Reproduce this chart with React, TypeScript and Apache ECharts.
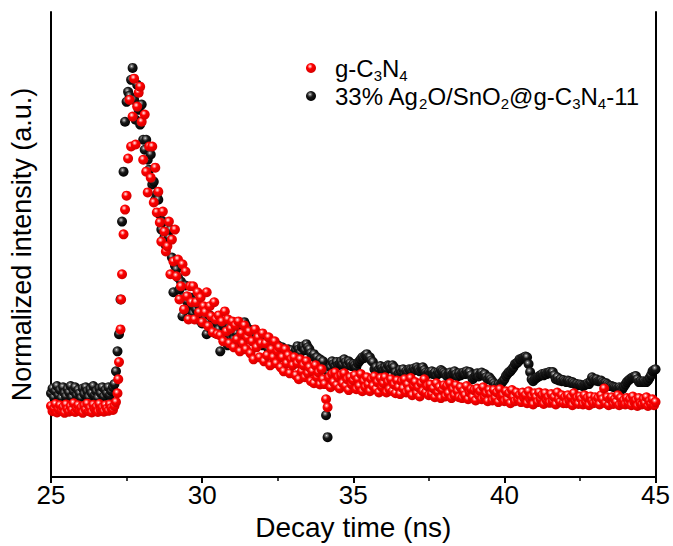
import React, { useEffect, useRef } from "react";
import * as echarts from "echarts";

// Channel grid of the decay traces (ns)
const START_NS = 25;
const STEP_NS = 0.05;
const X_MIN = 25;
const X_MAX = 45;
const X_INTERVAL = 5;
const Y_MIN = 0;
const Y_MAX = 1.165;

const RED_NAME = "g-C3N4";
const BLACK_NAME = "33% Ag2O/SnO2@g-C3N4-11";

// g-C3N4 normalized intensity, one value per channel (25.00 ns ... 45.00 ns)
const RED_VALUES = [
  0.178, 0.165, 0.172, 0.183, 0.162, 0.17, 0.18, 0.166, 0.175, 0.161,
  0.182, 0.17, 0.164, 0.177, 0.168, 0.185, 0.163, 0.172, 0.18, 0.166,
  0.174, 0.161, 0.179, 0.169, 0.184, 0.165, 0.173, 0.162, 0.181, 0.17,
  0.176, 0.163, 0.183, 0.168, 0.174, 0.164, 0.18, 0.171, 0.166, 0.182,
  0.173, 0.168, 0.178,
  0.188, 0.21, 0.288, 0.37, 0.508, 0.608, 0.67, 0.705, 0.798, 0.945, 0.828,
  0.903, 0.998, 0.833, 0.928, 0.963, 0.978, 0.89, 0.795, 0.908, 0.765,
  0.713, 0.828, 0.75, 0.828, 0.688, 0.775, 0.663, 0.715, 0.638, 0.59,
  0.665, 0.615, 0.565, 0.578, 0.64, 0.508, 0.595, 0.54, 0.62, 0.503,
  0.545, 0.445, 0.478, 0.533, 0.42, 0.515, 0.453, 0.395, 0.478, 0.438,
  0.478, 0.395, 0.438, 0.463, 0.413, 0.45, 0.388, 0.428, 0.413, 0.463,
  0.378, 0.428, 0.403, 0.363, 0.438, 0.395, 0.358,
  0.405, 0.355, 0.39, 0.34, 0.415, 0.365, 0.395, 0.335, 0.372, 0.39,
  0.325, 0.38, 0.345, 0.39, 0.315, 0.36, 0.335, 0.38, 0.32, 0.35,
  0.365, 0.31, 0.34, 0.295, 0.37, 0.325, 0.35, 0.3, 0.335, 0.36,
  0.29, 0.335, 0.305, 0.35, 0.28, 0.32, 0.3, 0.34, 0.285, 0.315,
  0.325, 0.275, 0.3, 0.265, 0.32, 0.285, 0.305, 0.26, 0.295, 0.28,
  0.3, 0.255, 0.285, 0.245, 0.295, 0.265, 0.28, 0.25, 0.29, 0.26,
  0.275, 0.24, 0.265, 0.235, 0.28, 0.25, 0.262, 0.232, 0.27, 0.245,
  0.233, 0.195, 0.175, 0.25,
  0.225, 0.258, 0.238, 0.262, 0.23, 0.25,
  0.222, 0.255, 0.235, 0.26, 0.228, 0.245, 0.218, 0.25, 0.232, 0.242,
  0.255, 0.22, 0.245, 0.228, 0.258, 0.215, 0.24, 0.225, 0.25, 0.232,
  0.215, 0.245, 0.228, 0.252, 0.22, 0.238, 0.212, 0.248, 0.225, 0.235,
  0.25, 0.212, 0.238, 0.22, 0.245, 0.215, 0.232, 0.21, 0.242, 0.225,
  0.208, 0.24, 0.222, 0.245, 0.212, 0.232, 0.218, 0.248, 0.205, 0.228,
  0.238, 0.21, 0.225, 0.202, 0.235, 0.215, 0.245, 0.212, 0.228, 0.205,
  0.232, 0.208, 0.222, 0.2, 0.235, 0.212, 0.225, 0.198, 0.218, 0.23,
  0.202, 0.228, 0.21, 0.235, 0.198, 0.22, 0.205, 0.23, 0.215, 0.2,
  0.225, 0.198, 0.215, 0.205, 0.228, 0.195, 0.212, 0.22, 0.2, 0.218,
  0.192, 0.222, 0.205, 0.215, 0.195, 0.225, 0.2, 0.21, 0.19, 0.218,
  0.208, 0.192, 0.218, 0.198, 0.212, 0.188, 0.22, 0.2, 0.205, 0.19,
  0.215, 0.195, 0.21, 0.185, 0.218, 0.2, 0.19, 0.212, 0.195, 0.205,
  0.188, 0.212, 0.198, 0.205, 0.185, 0.215, 0.195, 0.202, 0.182, 0.21,
  0.2, 0.188, 0.212, 0.195, 0.205, 0.183, 0.21, 0.192, 0.2, 0.186,
  0.208, 0.19, 0.2, 0.182, 0.212, 0.195, 0.188, 0.205, 0.185, 0.2,
  0.185, 0.205, 0.192, 0.2, 0.18, 0.21, 0.19, 0.198, 0.183, 0.202,
  0.195, 0.182, 0.205, 0.188, 0.198, 0.18, 0.202, 0.19, 0.185, 0.2,
  0.188, 0.198, 0.182, 0.205, 0.195, 0.222, 0.185, 0.2, 0.18, 0.195,
  0.2, 0.183, 0.195, 0.188, 0.205, 0.18, 0.198, 0.185, 0.192, 0.182,
  0.198, 0.185, 0.195, 0.18, 0.202, 0.188, 0.192, 0.178, 0.198, 0.185,
  0.182, 0.195, 0.185, 0.2, 0.178, 0.19, 0.183, 0.195, 0.18, 0.188,
];

// 33% Ag2O/SnO2@g-C3N4-11 normalized intensity, same channels
const BLACK_VALUES = [
  0.21, 0.222, 0.2, 0.215, 0.228, 0.205, 0.218, 0.198, 0.225, 0.21,
  0.202, 0.22, 0.212, 0.228, 0.2, 0.215, 0.225, 0.205, 0.218, 0.21,
  0.198, 0.222, 0.208, 0.225, 0.215, 0.2, 0.22, 0.21, 0.228, 0.205,
  0.215, 0.198, 0.222, 0.21, 0.225, 0.202, 0.218, 0.21, 0.225, 0.205,
  0.215,
  0.225, 0.233, 0.265, 0.315, 0.358, 0.445, 0.64, 0.765, 0.89, 0.94, 0.965, 0.955, 0.995,
  1.025, 0.945, 0.895, 0.983, 0.92, 0.883, 0.933, 0.845, 0.82, 0.845,
  0.795, 0.77, 0.808, 0.733, 0.74, 0.695, 0.708, 0.695, 0.658, 0.62,
  0.64, 0.6, 0.58, 0.59, 0.6, 0.62, 0.55, 0.463, 0.53, 0.52,
  0.5, 0.47, 0.49, 0.403, 0.45, 0.48, 0.44, 0.42, 0.45, 0.43,
  0.41, 0.44, 0.42, 0.395, 0.43, 0.41, 0.385, 0.415, 0.4, 0.358,
  0.39, 0.405, 0.37, 0.395, 0.375, 0.36, 0.385,
  0.37, 0.315, 0.355, 0.38, 0.34, 0.365, 0.33, 0.375, 0.35, 0.36,
  0.345, 0.33, 0.36, 0.35, 0.335, 0.365, 0.375, 0.388, 0.38, 0.36,
  0.37, 0.355, 0.345, 0.36, 0.34, 0.352, 0.335, 0.35, 0.345, 0.33,
  0.34, 0.33, 0.345, 0.32, 0.335, 0.325, 0.33, 0.325, 0.315, 0.33,
  0.32, 0.31, 0.325, 0.315, 0.305, 0.315, 0.32, 0.31, 0.318, 0.305,
  0.31, 0.318, 0.328, 0.32, 0.312, 0.325, 0.328, 0.318, 0.333, 0.325,
  0.32, 0.31, 0.303, 0.308, 0.298, 0.3, 0.288, 0.295, 0.282, 0.29,
  0.27, 0.155, 0.1, 0.26,
  0.275, 0.29, 0.283, 0.278, 0.288, 0.28,
  0.285, 0.29, 0.282, 0.295, 0.288, 0.28, 0.29, 0.285, 0.278, 0.283,
  0.28, 0.275, 0.285, 0.29, 0.295, 0.3, 0.298, 0.305, 0.308, 0.3,
  0.3, 0.292, 0.288, 0.27, 0.275, 0.265, 0.27, 0.278, 0.272, 0.268,
  0.275, 0.27, 0.28, 0.278, 0.272, 0.28, 0.275, 0.262, 0.253, 0.26,
  0.268, 0.262, 0.27, 0.258, 0.265, 0.262, 0.27, 0.268, 0.265, 0.272,
  0.268, 0.275, 0.27, 0.265, 0.272, 0.275, 0.268, 0.262, 0.258, 0.262,
  0.26, 0.265, 0.258, 0.262, 0.255, 0.262, 0.26, 0.268, 0.265, 0.262,
  0.258, 0.253, 0.258, 0.262, 0.255, 0.26, 0.265, 0.258, 0.252, 0.26,
  0.255, 0.26, 0.262, 0.258, 0.265, 0.26, 0.263, 0.255, 0.245, 0.25,
  0.255, 0.26, 0.252, 0.258, 0.262, 0.255, 0.258, 0.25, 0.245, 0.25,
  0.245, 0.24, 0.235, 0.23, 0.225, 0.232, 0.228, 0.235, 0.24, 0.245,
  0.253, 0.258, 0.263, 0.265, 0.27, 0.275, 0.283, 0.285, 0.288, 0.295,
  0.295, 0.298, 0.3, 0.302, 0.3, 0.283, 0.263, 0.245, 0.24, 0.245,
  0.248, 0.25, 0.253, 0.255, 0.258, 0.255, 0.26, 0.258, 0.262, 0.263,
  0.26, 0.263, 0.255, 0.245, 0.25, 0.242, 0.245, 0.24, 0.243, 0.24,
  0.238, 0.242, 0.24, 0.236, 0.238, 0.235, 0.232, 0.233, 0.23, 0.232,
  0.23, 0.228, 0.23, 0.232, 0.235, 0.233, 0.24, 0.25, 0.245, 0.242,
  0.245, 0.24, 0.24, 0.242, 0.238, 0.235, 0.236, 0.233, 0.23, 0.228,
  0.228, 0.226, 0.225, 0.224, 0.222, 0.225, 0.222, 0.22, 0.226, 0.232,
  0.238, 0.242, 0.245, 0.248, 0.25, 0.252, 0.253, 0.245, 0.238, 0.24,
  0.238, 0.24, 0.238, 0.238, 0.242, 0.248, 0.255, 0.265, 0.268, 0.27,
];

// Extra points read on the steep rising edge: [time (ns), intensity]
const RED_EXTRA: number[][] = [
  [27.225, 0.245],
  [27.32, 0.445],
];
const BLACK_EXTRA: number[][] = [];

const FONT = "'Liberation Sans', Arial, Helvetica, sans-serif";

const LEGEND_RICH: Record<string, string> = {
  [RED_NAME]: "{g| }{n|g-C}{s|3}{n|N}{s|4}",
  [BLACK_NAME]: "{g| }{n|33% Ag}{s|2}{n|O/SnO}{s|2}{n|@g-C}{s|3}{n|N}{s|4}{n|-11}",
};

function toPoints(values: number[], extra: number[][]) {
  const pts = values.map((v, i) => [Number((START_NS + i * STEP_NS).toFixed(3)), v]);
  return pts.concat(extra);
}

export default function App() {
  const ref = useRef<HTMLDivElement>(null);

  useEffect(() => {
    if (!ref.current) return;
    const chart = echarts.init(ref.current, undefined, { renderer: "svg" });

    const redBall = new echarts.graphic.RadialGradient(0.4, 0.34, 0.68, [
      { offset: 0, color: "#ffffff" },
      { offset: 0.15, color: "#ff9090" },
      { offset: 0.38, color: "#ff0000" },
      { offset: 1, color: "#d00000" },
    ]);
    const blackBall = new echarts.graphic.RadialGradient(0.4, 0.34, 0.68, [
      { offset: 0, color: "#e8e8e8" },
      { offset: 0.15, color: "#808080" },
      { offset: 0.42, color: "#181818" },
      { offset: 1, color: "#000000" },
    ]);

    const frameAxisLine = { show: true, lineStyle: { color: "#000", width: 2 } };

    chart.setOption({
      animation: false,
      backgroundColor: "#ffffff",
      textStyle: { fontFamily: FONT },
      grid: { left: 51, right: 17, top: 12, bottom: 68, containLabel: false },
      legend: {
        orient: "vertical",
        left: 301,
        top: 51,
        itemWidth: 10,
        itemHeight: 10,
        itemGap: 1,
        data: [RED_NAME, BLACK_NAME],
        formatter: (name: string) => LEGEND_RICH[name] || name,
        textStyle: {
          color: "#000",
          fontFamily: FONT,
          rich: {
            g: { width: 14, fontSize: 10 },
            n: { fontSize: 24, lineHeight: 30, color: "#000", fontFamily: FONT },
            s: { fontSize: 15, lineHeight: 15, verticalAlign: "bottom", color: "#000", fontFamily: FONT },
          },
        },
      },
      xAxis: [
        {
          type: "value",
          min: X_MIN,
          max: X_MAX,
          interval: X_INTERVAL,
          name: "Decay time (ns)",
          nameLocation: "middle",
          nameGap: 33,
          nameTextStyle: { fontSize: 28, color: "#000", fontFamily: FONT },
          axisLine: frameAxisLine,
          axisTick: { show: true, inside: false, length: 6, lineStyle: { color: "#000", width: 2 } },
          minorTick: { show: true, splitNumber: 2, length: 4, lineStyle: { color: "#000", width: 1.5 } },
          axisLabel: { fontSize: 26, color: "#000", margin: 5, fontFamily: FONT },
          splitLine: { show: false },
          minorSplitLine: { show: false },
        },
        {
          type: "value",
          position: "top",
          min: X_MIN,
          max: X_MAX,
          axisLine: frameAxisLine,
          axisTick: { show: false },
          axisLabel: { show: false },
          splitLine: { show: false },
        },
      ],
      yAxis: [
        {
          type: "value",
          min: Y_MIN,
          max: Y_MAX,
          name: "Normalized intensity (a.u.)",
          nameLocation: "middle",
          nameGap: 16,
          nameTextStyle: { fontSize: 27, color: "#000", fontFamily: FONT },
          axisLine: frameAxisLine,
          axisTick: { show: false },
          axisLabel: { show: false },
          splitLine: { show: false },
        },
        {
          type: "value",
          position: "right",
          min: Y_MIN,
          max: Y_MAX,
          axisLine: frameAxisLine,
          axisTick: { show: false },
          axisLabel: { show: false },
          splitLine: { show: false },
        },
      ],
      series: [
        {
          name: BLACK_NAME,
          type: "scatter",
          symbol: "circle",
          symbolSize: 10,
          data: toPoints(BLACK_VALUES, BLACK_EXTRA),
          itemStyle: { color: blackBall, opacity: 1 },
          z: 2,
        },
        {
          name: RED_NAME,
          type: "scatter",
          symbol: "circle",
          symbolSize: 10,
          data: toPoints(RED_VALUES, RED_EXTRA),
          itemStyle: { color: redBall, opacity: 1 },
          z: 3,
        },
      ],
    });

    return () => chart.dispose();
  }, []);

  return (
    <div
      ref={ref}
      style={{ position: "fixed", left: 0, top: 0, width: 673, height: 546, background: "#fff" }}
    />
  );
}
